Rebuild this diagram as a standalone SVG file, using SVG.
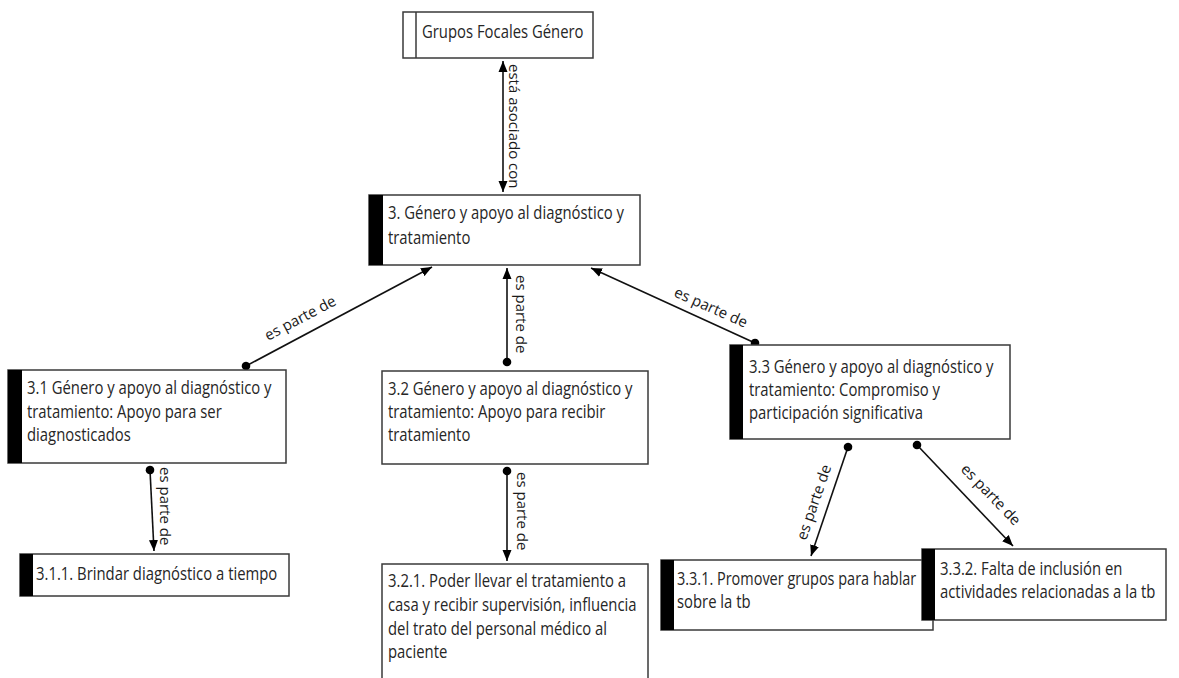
<svg xmlns="http://www.w3.org/2000/svg" width="1179" height="678" viewBox="0 0 1179 678">
  <style>
    .box { fill: #ffffff; stroke: #3a3a3a; stroke-width: 1.5; }
    .bar { fill: #000000; }
    .t { font-family: "Open Sans", "Noto Sans", "DejaVu Sans", sans-serif; font-size: 18px; fill: #262626; }
    .lbl { font-family: "Open Sans", "Noto Sans", "DejaVu Sans", sans-serif; font-size: 15px; fill: #1a1a1a; }
    .edge { stroke: #111111; stroke-width: 1.6; fill: none; }
  </style>
  <defs>
    <marker id="arrow" markerUnits="userSpaceOnUse" markerWidth="12" markerHeight="10" refX="11" refY="5" orient="auto-start-reverse">
      <path d="M0,0.5 L11,5 L0,9.5 z" fill="#000000"/>
    </marker>
    <marker id="dot" markerUnits="userSpaceOnUse" markerWidth="10" markerHeight="10" refX="5" refY="5" orient="auto">
      <circle cx="5" cy="5" r="4.3" fill="#000000"/>
    </marker>
  </defs>

  <rect width="1179" height="678" fill="#ffffff"/>

  <!-- connectors -->
  <g id="connectors">
    <line class="edge" x1="503" y1="61" x2="503" y2="192" marker-start="url(#arrow)" marker-end="url(#arrow)"/>
    <text class="lbl" transform="translate(509,64) rotate(90)">está asociado con</text>

    <line class="edge" x1="246" y1="366" x2="432" y2="267" marker-start="url(#dot)" marker-end="url(#arrow)"/>
    <text class="lbl" transform="translate(268,341) rotate(-28)">es parte de</text>

    <line class="edge" x1="507" y1="362" x2="507" y2="268" marker-start="url(#dot)" marker-end="url(#arrow)"/>
    <text class="lbl" transform="translate(516,275) rotate(90)">es parte de</text>

    <line class="edge" x1="755" y1="343" x2="591" y2="268" marker-start="url(#dot)" marker-end="url(#arrow)"/>
    <text class="lbl" transform="translate(673,296) rotate(24)">es parte de</text>

    <line class="edge" x1="150" y1="470" x2="154" y2="551" marker-start="url(#dot)" marker-end="url(#arrow)"/>
    <text class="lbl" transform="translate(160,467) rotate(90)">es parte de</text>

    <line class="edge" x1="507" y1="471" x2="507" y2="561" marker-start="url(#dot)" marker-end="url(#arrow)"/>
    <text class="lbl" transform="translate(517,472) rotate(90)">es parte de</text>

    <line class="edge" x1="848" y1="447" x2="811" y2="556" marker-start="url(#dot)" marker-end="url(#arrow)"/>
    <text class="lbl" transform="translate(806,541) rotate(-71)">es parte de</text>

    <line class="edge" x1="917" y1="445" x2="1013" y2="546" marker-start="url(#dot)" marker-end="url(#arrow)"/>
    <text class="lbl" transform="translate(960,470) rotate(46)">es parte de</text>
  </g>

  <!-- nodes -->
  <g id="grupos-focales">
    <rect class="box" x="403" y="12" width="190" height="46"/>
    <line x1="416" y1="12" x2="416" y2="58" stroke="#3a3a3a" stroke-width="1.5"/>
    <text class="t" transform="translate(422,38) scale(0.825,1)">Grupos Focales Género</text>
  </g>

  <g id="n3">
    <rect class="box" x="369" y="195" width="271" height="70"/>
    <rect class="bar" x="369" y="195" width="14" height="70"/>
    <text class="t" transform="translate(388,219) scale(0.825,1)"><tspan x="0" y="0">3. Género y apoyo al diagnóstico y</tspan><tspan x="0" y="25">tratamiento</tspan></text>
  </g>

  <g id="n3-1">
    <rect class="box" x="8" y="370" width="278" height="93"/>
    <rect class="bar" x="8" y="370" width="14" height="93"/>
    <text class="t" transform="translate(27,394) scale(0.825,1)"><tspan x="0" y="0">3.1 Género y apoyo al diagnóstico y</tspan><tspan x="0" y="24">tratamiento: Apoyo para ser</tspan><tspan x="0" y="47">diagnosticados</tspan></text>
  </g>

  <g id="n3-2">
    <rect class="box" x="382" y="371" width="266" height="93"/>
    <text class="t" transform="translate(388,395) scale(0.825,1)"><tspan x="0" y="0">3.2 Género y apoyo al diagnóstico y</tspan><tspan x="0" y="23">tratamiento: Apoyo para recibir</tspan><tspan x="0" y="46">tratamiento</tspan></text>
  </g>

  <g id="n3-3">
    <rect class="box" x="730" y="345" width="280" height="94"/>
    <rect class="bar" x="730" y="345" width="13" height="94"/>
    <text class="t" transform="translate(749,373) scale(0.825,1)"><tspan x="0" y="0">3.3 Género y apoyo al diagnóstico y</tspan><tspan x="0" y="23">tratamiento: Compromiso y</tspan><tspan x="0" y="46">participación significativa</tspan></text>
  </g>

  <g id="n3-1-1">
    <rect class="box" x="20" y="554" width="269" height="42"/>
    <rect class="bar" x="20" y="554" width="13" height="42"/>
    <text class="t" transform="translate(36,580) scale(0.825,1)">3.1.1. Brindar diagnóstico a tiempo</text>
  </g>

  <g id="n3-2-1">
    <rect class="box" x="382" y="564" width="266" height="126"/>
    <text class="t" transform="translate(388,587) scale(0.825,1)"><tspan x="0" y="0">3.2.1. Poder llevar el tratamiento a</tspan><tspan x="0" y="24">casa y recibir supervisión, influencia</tspan><tspan x="0" y="48">del trato del personal médico al</tspan><tspan x="0" y="71">paciente</tspan></text>
  </g>

  <g id="n3-3-1">
    <rect class="box" x="661" y="560" width="272" height="70"/>
    <rect class="bar" x="661" y="560" width="13" height="70"/>
    <text class="t" transform="translate(677,585) scale(0.825,1)"><tspan x="0" y="0" textLength="290" lengthAdjust="spacingAndGlyphs">3.3.1. Promover grupos para hablar</tspan><tspan x="0" y="23">sobre la tb</tspan></text>
  </g>

  <g id="n3-3-2">
    <rect class="box" x="922" y="549" width="244" height="71"/>
    <rect class="bar" x="922" y="549" width="13" height="71"/>
    <text class="t" transform="translate(940,575) scale(0.825,1)"><tspan x="0" y="0">3.3.2. Falta de inclusión en</tspan><tspan x="0" y="23">actividades relacionadas a la tb</tspan></text>
  </g>
</svg>
